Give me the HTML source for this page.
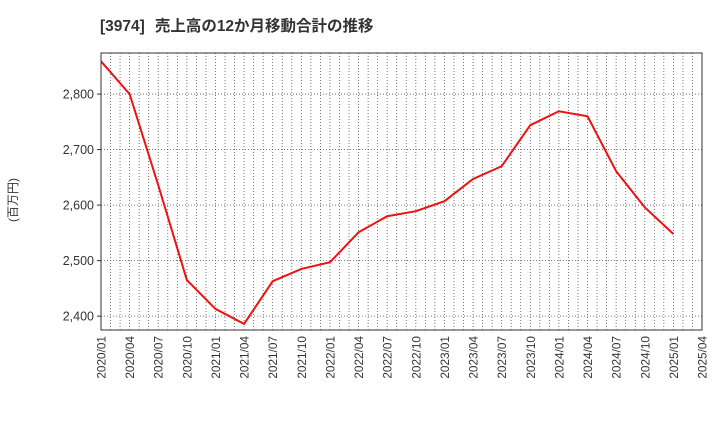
<!DOCTYPE html>
<html><head><meta charset="utf-8"><style>
body{margin:0;background:#fff;font-family:"Liberation Sans","Noto Sans CJK JP",sans-serif;}
</style></head><body>
<svg width="720" height="440" xmlns="http://www.w3.org/2000/svg" font-family="Liberation Sans, Noto Sans CJK JP, sans-serif">
<text x="100" y="31" font-size="15.5" font-weight="bold" fill="#333">[3974]<tspan dx="10">売上高の12か月移動合計の推移</tspan></text>
<text transform="translate(17,200) rotate(-90)" font-size="12" fill="#333" text-anchor="middle">(百万円)</text>
<g id="grid"></g>
<g id="axes"></g>
<g id="series"></g>
</svg>
<script>
const xLabels=["2020/01","2020/04","2020/07","2020/10","2021/01","2021/04","2021/07","2021/10","2022/01","2022/04","2022/07","2022/10","2023/01","2023/04","2023/07","2023/10","2024/01","2024/04","2024/07","2024/10","2025/01","2025/04"];
const values=[2859,2800,2636,2465,2413,2386,2463,2485,2497,2551,2580,2589,2607,2647,2670,2744,2769,2760,2661,2596,2548];
const yTicks=[2400,2500,2600,2700,2800];
const yTickLabels=["2,400","2,500","2,600","2,700","2,800"];
const L=101,R=702,T=53,B=330,yMin=2375,yMax=2874;
const NS="http://www.w3.org/2000/svg";
const xq=i=>L+(R-L)*i/(xLabels.length-1);
const xm=m=>L+(R-L)*m/((xLabels.length-1)*3);
const y=v=>B-(v-yMin)/(yMax-yMin)*(B-T);
function mk(tag,attrs,parent){const e=document.createElementNS(NS,tag);for(const k in attrs)e.setAttribute(k,attrs[k]);parent.appendChild(e);return e;}
const grid=document.getElementById('grid'),axes=document.getElementById('axes'),series=document.getElementById('series');
for(let m=1;m<(xLabels.length-1)*3;m++){const gl=mk('line',{x1:xm(m),x2:xm(m),y1:T,y2:B,stroke:'#555','stroke-width':0.8,'stroke-dasharray':'1,2'},grid);}
yTicks.forEach((v,i)=>{const gl=mk('line',{x1:L,x2:R,y1:y(v),y2:y(v),stroke:'#555','stroke-width':0.8,'stroke-dasharray':'1,2'},grid);
const t=mk('text',{x:L-7,y:y(v)+4.5,'font-size':12.5,fill:'#333','text-anchor':'end'},axes);t.textContent=yTickLabels[i];
mk('line',{x1:L-4,x2:L,y1:y(v),y2:y(v),stroke:'#333'},axes);});
xLabels.forEach((lab,i)=>{const t=mk('text',{transform:`translate(${xq(i)+4.5},${B+6}) rotate(-90)`,'font-size':11.8,fill:'#333','text-anchor':'end'},axes);t.textContent=lab;});
const fr=mk('rect',{x:L,y:T,width:R-L,height:B-T,fill:'none',stroke:'#333','stroke-width':1},axes);

const pl=mk('polyline',{points:values.map((v,i)=>xq(i)+','+y(v)).join(' '),fill:'none',stroke:'#ee1111','stroke-width':2},series);

</script>
</body></html>
